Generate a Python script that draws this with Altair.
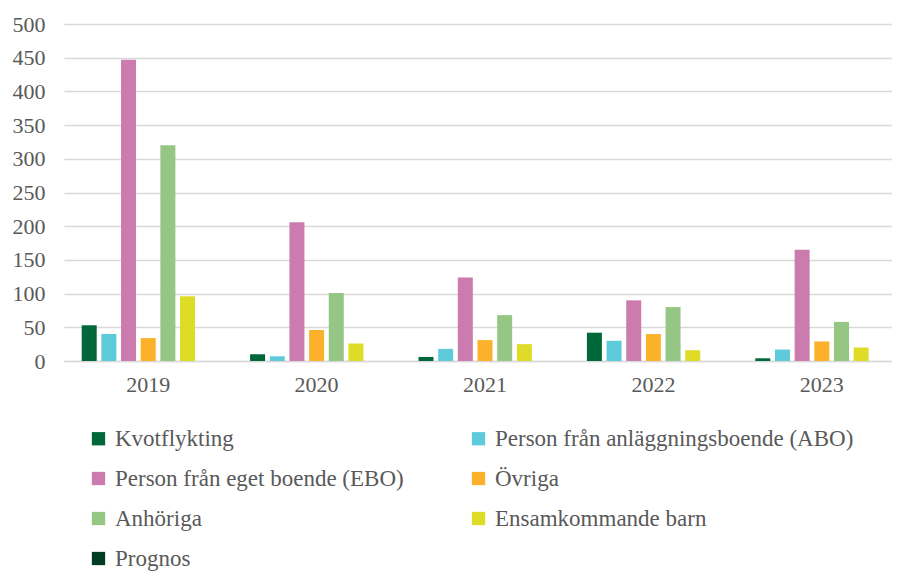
import altair as alt
import pandas as pd

years = ["2019", "2020", "2021", "2022", "2023"]
series = ["Kvotflykting", "Person från anläggningsboende (ABO)", "Person från eget boende (EBO)",
          "Övriga", "Anhöriga", "Ensamkommande barn", "Prognos"]
colors = ["#006838", "#5ECBDB", "#CC7BAE", "#FBB22A", "#96C683", "#DEDC27", "#003D23"]

kvot = [53, 10, 6, 42, 4]
abo = [40, 7, 18, 30, 17]
ebo = [447, 206, 124, 90, 165]
ovriga = [34, 46, 31, 40, 29]
anhoriga = [320, 101, 68, 80, 58]
ensam = [96, 26, 25, 16, 20]

rows = []
for name, vals in zip(series[:6], [kvot, abo, ebo, ovriga, anhoriga, ensam]):
    for y, v in zip(years, vals):
        rows.append({"year": y, "series": name, "value": v})
df = pd.DataFrame(rows)

# legend fills column by column: order so it reads row by row
legend_order = [0, 2, 4, 6, 1, 3, 5]
legend_domain = [series[i] for i in legend_order]
legend_range = [colors[i] for i in legend_order]

font = "Liberation Serif"
gray = "#595959"

chart = alt.Chart(df).mark_bar().encode(
    x=alt.X("year:N", title=None, sort=years,
            scale=alt.Scale(paddingInner=0.21, paddingOuter=0.105, range=[0, 842]),
            axis=alt.Axis(labelAngle=0, ticks=False, domainColor="#D9D9D9", domainWidth=1.5,
                          labelPadding=13, labelFont=font, labelFontSize=22, labelColor=gray)),
    xOffset=alt.XOffset("series:N", sort=series,
                        scale=alt.Scale(domain=series, paddingInner=0.237, paddingOuter=0)),
    y=alt.Y("value:Q", title=None, scale=alt.Scale(domain=[0, 500]),
            axis=alt.Axis(values=list(range(0, 501, 50)), domain=False, ticks=False,
                          gridColor="#D9D9D9", gridWidth=1.5, labelPadding=19,
                          labelFont=font, labelFontSize=22, labelColor=gray)),
    color=alt.Color("series:N",
                    scale=alt.Scale(domain=legend_domain, range=legend_range),
                    legend=alt.Legend(title=None, orient="none", legendX=23, legendY=403,
                                      columns=2, columnPadding=63, rowPadding=16,
                                      symbolType="square", symbolSize=177, symbolStrokeWidth=0,
                                      labelFont=font, labelFontSize=23, labelColor=gray,
                                      labelOffset=5, labelLimit=600)),
).properties(
    width=828, height=337,
    autosize=alt.AutoSizeParams(type="none"),
    padding={"left": 56, "top": 16, "right": 0, "bottom": 210},
).configure(font=font).configure_view(stroke=None)

chart.save("out.html", embed_options={"renderer": "svg", "actions": False})
